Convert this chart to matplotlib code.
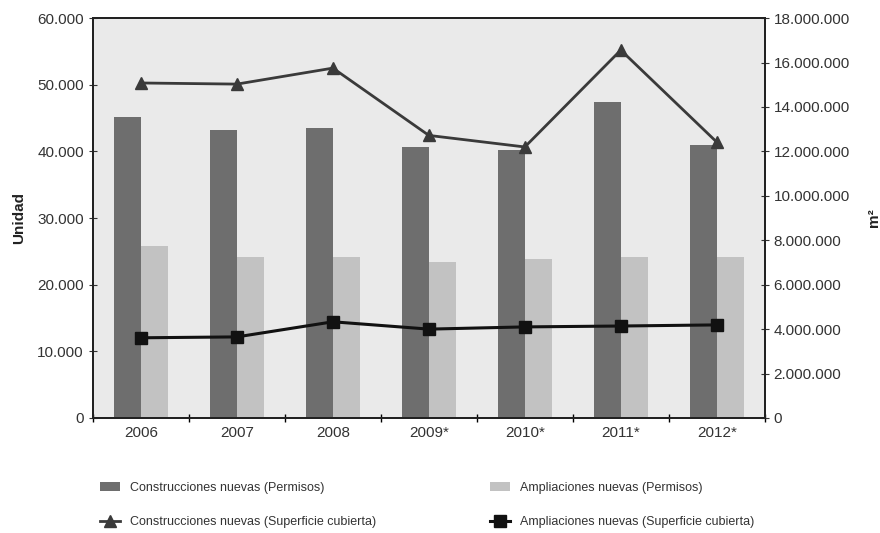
import matplotlib
matplotlib.use('Agg')
import matplotlib.pyplot as plt
import numpy as np
from matplotlib.ticker import FuncFormatter, FixedLocator

plt.rcParams['font.family'] = ['Liberation Sans', 'DejaVu Sans']

# data
years = ['2006', '2007', '2008', '2009*', '2010*', '2011*', '2012*']
construcciones_permisos = [45200, 43200, 43450, 40700, 40200, 47450, 40950]
ampliaciones_permisos = [25800, 24150, 24150, 23400, 23850, 24150, 24150]
construcciones_sup = [15080000, 15030000, 15750000, 12720000, 12200000, 16560000, 12420000]
ampliaciones_sup = [3610000, 3650000, 4330000, 4000000, 4100000, 4140000, 4190000]

def miles(v, pos):
    return '{:,.0f}'.format(v).replace(',', '.')

x = np.arange(len(years))
w = 0.28

fig = plt.figure(figsize=(8.8, 5.33), dpi=100)
ax1 = fig.add_axes([0.1057, 0.2158, 0.7633, 0.7502])
ax1.set_facecolor('#eaeaea')
ax1.bar(x - w / 2, construcciones_permisos, width=w, color='#6e6e6e', zorder=2,
        label='Construcciones nuevas (Permisos)')
ax1.bar(x + w / 2, ampliaciones_permisos, width=w, color='#c2c2c2', zorder=2,
        label='Ampliaciones nuevas (Permisos)')
ax1.set_ylim(0, 60000)
ax1.set_xlim(-0.5, len(years) - 0.5)
ax1.set_yticks(np.arange(0, 60001, 10000))
ax1.yaxis.set_major_formatter(FuncFormatter(miles))
ax1.set_xticks(x)
ax1.set_xticklabels(years)
ax1.xaxis.set_minor_locator(FixedLocator(np.arange(-0.5, len(years), 1)))
ax1.tick_params(axis='x', which='major', length=0, labelsize=11, pad=6, colors='#333333')
ax1.tick_params(axis='x', which='minor', length=6, direction='inout', width=1)
ax1.tick_params(axis='y', length=6, direction='inout', labelsize=11, colors='#333333')
ax1.set_ylabel('Unidad', fontsize=11, fontweight='bold', color='#222222', labelpad=8)
for s in ax1.spines.values():
    s.set_color('#222222')
    s.set_linewidth(1.4)

ax2 = ax1.twinx()
ax2.plot(x, construcciones_sup, color='#3a3a3a', linewidth=2.0, marker='^', markersize=8,
         label='Construcciones nuevas (Superficie cubierta)', zorder=3)
ax2.plot(x, ampliaciones_sup, color='#111111', linewidth=2.2, marker='s', markersize=8,
         label='Ampliaciones nuevas (Superficie cubierta)', zorder=3)
ax2.set_ylim(0, 18000000)
ax2.set_yticks(np.arange(0, 18000001, 2000000))
ax2.yaxis.set_major_formatter(FuncFormatter(miles))
ax2.tick_params(axis='y', length=6, direction='inout', labelsize=11, colors='#333333')
ax2.set_ylabel('m²', fontsize=11, fontweight='bold', color='#222222', labelpad=12)
for s in ax2.spines.values():
    s.set_color('#222222')
    s.set_linewidth(1.4)

h1, l1 = ax1.get_legend_handles_labels()
h2, l2 = ax2.get_legend_handles_labels()
leg1 = fig.legend([h1[0], h2[0]], [l1[0], l2[0]], loc='lower left', bbox_to_anchor=(0.108, 0.0),
                  frameon=False, fontsize=9, labelspacing=1.75, handlelength=1.6, borderaxespad=0)
leg2 = fig.legend([h1[1], h2[1]], [l1[1], l2[1]], loc='lower left', bbox_to_anchor=(0.551, 0.0),
                  frameon=False, fontsize=9, labelspacing=1.75, handlelength=1.6, borderaxespad=0)
for t in leg1.get_texts() + leg2.get_texts():
    t.set_color('#333333')

fig.savefig('out.png', dpi=100)
